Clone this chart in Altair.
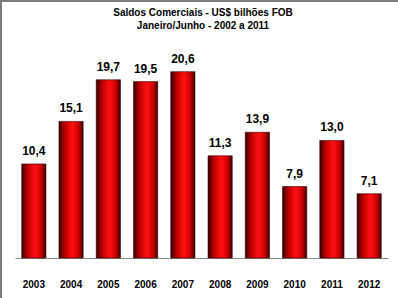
import altair as alt
import pandas as pd

years = ["2003", "2004", "2005", "2006", "2007", "2008", "2009", "2010", "2011", "2012"]
values = [10.4, 15.1, 19.7, 19.5, 20.6, 11.3, 13.9, 7.9, 13.0, 7.1]
labels = [f"{v:.1f}".replace(".", ",") for v in values]
title_lines = ["Saldos Comerciais - US$ bilhões FOB", "Janeiro/Junho - 2002 a 2011"]

df = pd.DataFrame({"ano": years, "saldo": values, "rotulo": labels})
one = pd.DataFrame({"k": [0]})

FONT = "Liberation Sans"

grad = alt.LinearGradient(
    gradient="linear",
    x1=0, x2=1, y1=0, y2=0,
    stops=[
        alt.GradientStop(offset=0, color="#3a0000"),
        alt.GradientStop(offset=0.25, color="#c00000"),
        alt.GradientStop(offset=0.55, color="#ff1010"),
        alt.GradientStop(offset=0.8, color="#d00000"),
        alt.GradientStop(offset=1, color="#400000"),
    ],
)

x = alt.X(
    "ano:N",
    sort=years,
    title=None,
    scale=alt.Scale(paddingInner=0.35, paddingOuter=0.18),
    axis=alt.Axis(
        labelAngle=0,
        ticks=False,
        labelPadding=21,
        labelFont=FONT,
        labelFontSize=10,
        labelFontWeight="bold",
        labelColor="#000000",
        domainColor="#8a8a8a",
        domainWidth=1,
        grid=False,
    ),
)
y = alt.Y("saldo:Q", title=None, scale=alt.Scale(domain=[0, 24.1]), axis=None)

base = alt.Chart(df)

bars = base.mark_bar(fill=grad, stroke="#300000", strokeWidth=0.6).encode(x=x, y=y)

text = base.mark_text(
    dy=-6, baseline="bottom", font=FONT, fontSize=12, fontWeight="bold", color="#000000"
).encode(x=x, y=y, text="rotulo:N")

title1 = alt.Chart(one).mark_text(
    text=title_lines[0], font=FONT, fontSize=10, fontWeight="bold", color="#000000",
    align="center", baseline="middle",
).encode(x=alt.value(188), y=alt.value(-27))
title2 = alt.Chart(one).mark_text(
    text=title_lines[1], font=FONT, fontSize=10, fontWeight="bold", color="#000000",
    align="center", baseline="middle",
).encode(x=alt.value(188), y=alt.value(-14))

border_left = alt.Chart(one).mark_rule(color="#7a7a7a", strokeWidth=2).encode(
    x=alt.value(-14), y=alt.value(-40), y2=alt.value(260)
)
border_top = alt.Chart(one).mark_rule(color="#7a7a7a", strokeWidth=2).encode(
    x=alt.value(-15), x2=alt.value(385), y=alt.value(-39)
)

chart = (
    alt.layer(bars, text, title1, title2, border_left, border_top)
    .properties(
        width=373,
        height=218,
        autosize=alt.AutoSizeParams(type="none"),
        padding={"left": 15, "top": 40, "right": 10, "bottom": 40},
        background="#ffffff",
    )
    .configure_view(stroke=None)
)

chart.save("out.html", embed_options={"renderer": "svg", "actions": False})
